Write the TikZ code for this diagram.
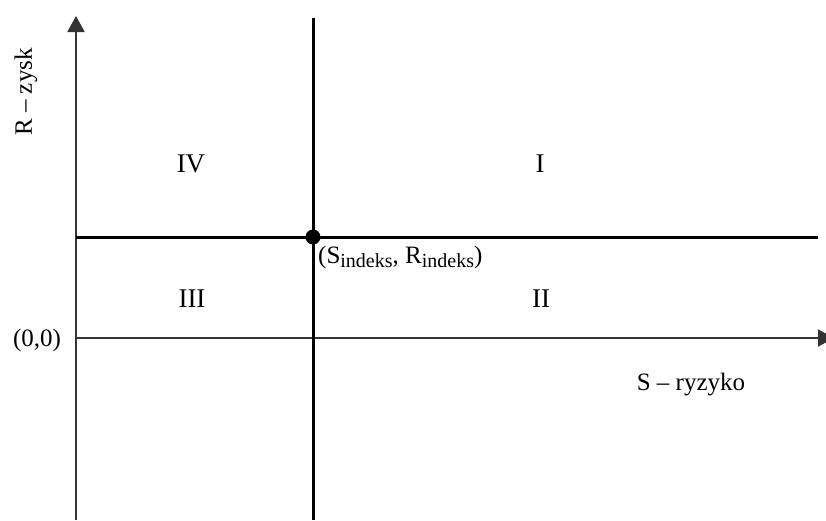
\documentclass[tikz,border=0pt]{standalone}
\usepackage{fontspec}
\setmainfont{Liberation Serif}
\usetikzlibrary{arrows.meta}
\tikzset{
  axis/.style={line width=2pt, draw=black!80, -{Triangle[length=16pt,width=17pt]}},
  thick line/.style={line width=3pt, draw=black},
  lbl/.style={font=\fontsize{25}{30}\selectfont, inner sep=0pt},
  quad/.style={font=\fontsize{27}{32}\selectfont, inner sep=0pt, anchor=base},
}
\begin{document}
\begin{tikzpicture}[x=1pt,y=-1pt]
\useasboundingbox[fill=white] (0,0) rectangle (826,520);
\coordinate (ybot) at (76,520);
\coordinate (ytop) at (76,16);
\coordinate (xl) at (76,338);
\coordinate (xr) at (834,338);
\coordinate (vt) at (313,18);
\coordinate (vb) at (313,520);
\coordinate (hl) at (76,237);
\coordinate (hr) at (818,237);
\draw[axis] (ybot) -- (ytop);
\draw[axis] (xl) -- (xr);
\draw[thick line] (vt) -- (vb);
\draw[thick line] (hl) -- (hr);
\node[circle, fill=black, minimum size=15pt, inner sep=0pt] (dot) at (313,237) {};
\node[lbl, anchor=base west] (idx) at (318,263) {(S\raisebox{-0.35ex}{\fontsize{20}{20}\selectfont indeks}, R\raisebox{-0.35ex}{\fontsize{20}{20}\selectfont indeks})};
\node[quad] (q4) at (191,172) {IV};
\node[quad] (q1) at (540,172) {I};
\node[quad] (q3) at (192,307) {III};
\node[quad] (q2) at (541,307) {II};
\node[lbl, anchor=base] (orig) at (37,346) {(0,0)};
\node[lbl, anchor=base] (sl) at (691,390) {S -- ryzyko};
\node[lbl, rotate=90] (rl) at (26,92) {R -- zysk};
\end{tikzpicture}
\end{document}
